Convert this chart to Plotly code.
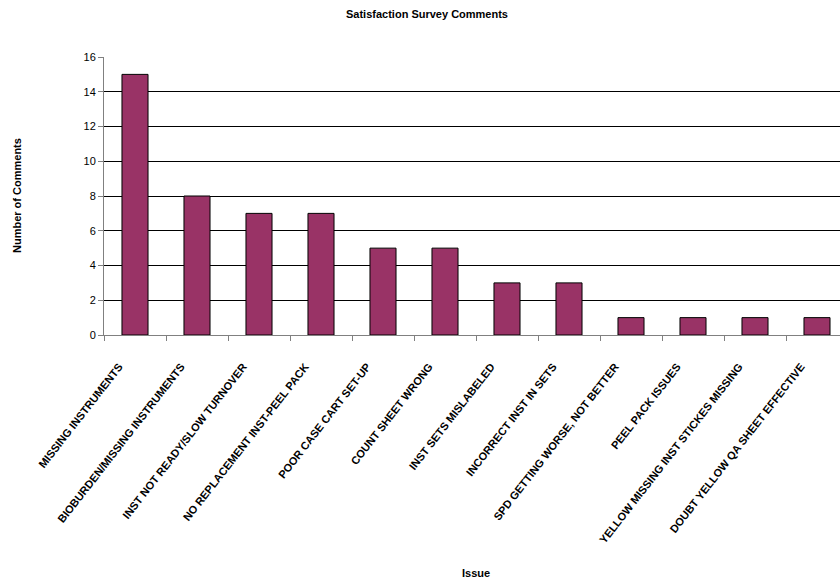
import plotly.graph_objects as go

categories = [
    "MISSING INSTRUMENTS",
    "BIOBURDEN/MISSING INSTRUMENTS",
    "INST NOT READY/SLOW TURNOVER",
    "NO REPLACEMENT INST-PEEL PACK",
    "POOR CASE CART SET-UP",
    "COUNT SHEET WRONG",
    "INST SETS MISLABELED",
    "INCORRECT INST IN SETS",
    "SPD GETTING WORSE, NOT BETTER",
    "PEEL PACK ISSUES",
    "YELLOW MISSING INST STICKES MISSING",
    "DOUBT YELLOW QA SHEET EFFECTIVE",
]
comments = [15, 8, 7, 7, 5, 5, 3, 3, 1, 1, 1, 1]
y_ticks = [0, 2, 4, 6, 8, 10, 12, 14, 16]

W, H = 840, 584
L, R, T, B = 104, 0, 57, 249
pw = W - L - R
ph = H - T - B
cat_px = 62.0

def px_x(px):
    return (px - L) / pw

def px_y(py):
    return (H - B - py) / ph

font = "Liberation Sans, Arial, sans-serif"

fig = go.Figure(go.Bar(
    x=categories, y=comments,
    marker=dict(color="#993366", line=dict(color="#000000", width=1)),
    width=0.42,
))

fig.update_layout(
    width=W, height=H,
    margin=dict(l=L, r=R, t=T, b=B, pad=0),
    paper_bgcolor="white", plot_bgcolor="white",
    showlegend=False,
    font=dict(family=font, size=11, color="black"),
    xaxis=dict(
        type="category",
        range=[-0.5, -0.5 + pw / cat_px],
        tickangle=-52,
        ticks="outside", ticklen=5, tickcolor="#808080",
        tickson="boundaries",
        ticklabelstandoff=20,
        ticklabelshift=-16,
        showline=True, linecolor="#808080", linewidth=1,
        showgrid=False,
        tickfont=dict(family=font, size=11, color="black", weight="bold"),
    ),
    yaxis=dict(
        range=[0, 16],
        tickvals=y_ticks,
        ticks="outside", ticklen=5, tickcolor="#808080",
        showline=True, linecolor="#808080", linewidth=1,
        showgrid=True, gridcolor="#000000", gridwidth=1,
        zeroline=False,
        tickfont=dict(family=font, size=11, color="black"),
    ),
    annotations=[
        dict(text="<b>Satisfaction Survey Comments</b>", x=px_x(427), y=px_y(14),
             xref="paper", yref="paper", showarrow=False,
             xanchor="center", yanchor="middle", font=dict(size=11, family=font)),
        dict(text="<b>Issue</b>", x=px_x(476), y=px_y(573),
             xref="paper", yref="paper", showarrow=False,
             xanchor="center", yanchor="middle", font=dict(size=11, family=font)),
        dict(text="<b>Number of Comments</b>", x=px_x(17), y=px_y(196),
             xref="paper", yref="paper", showarrow=False, textangle=-90,
             xanchor="center", yanchor="middle", font=dict(size=11, family=font)),
    ],
)

fig.write_html("out.html")
